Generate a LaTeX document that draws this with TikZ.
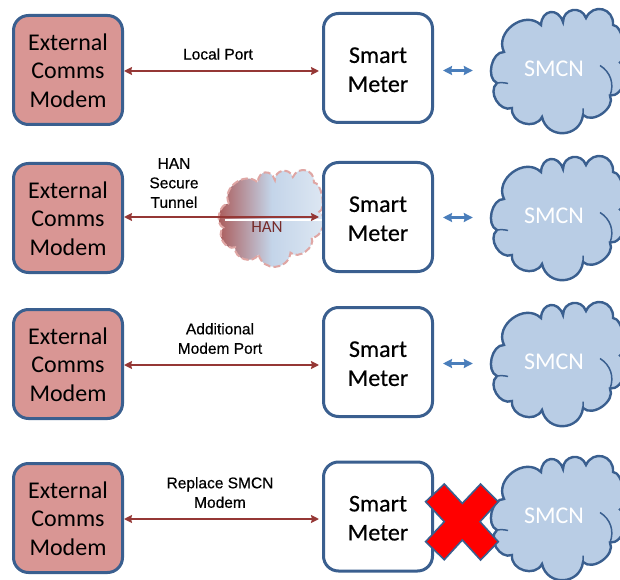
\documentclass[tikz,border=0pt]{standalone}
\usepackage{fontspec}
\setmainfont{Carlito}
\newfontfamily\meterfont[FakeBold=0.4]{Carlito}
\newfontfamily\arialfont[FakeBold=0.5]{Liberation Sans}
\usepackage{tikz}
\usetikzlibrary{shapes.geometric, arrows, arrows.meta}
\definecolor{boxblue}{HTML}{3A5F8F}
\definecolor{modemred}{HTML}{D99694}
\definecolor{cloudblue}{HTML}{B9CDE5}
\definecolor{linkred}{HTML}{953735}
\definecolor{linkblue}{HTML}{4A7EBB}
\tikzstyle{modem} = [rectangle, rounded corners=15pt, minimum width=109pt, minimum height=109pt, text centered, align=center, line width=3pt, draw=boxblue, fill=modemred, font=\fontsize{24}{28.5}\selectfont]
\tikzstyle{meter} = [rectangle, rounded corners=15pt, minimum width=109pt, minimum height=109pt, text centered, align=center, line width=3pt, draw=boxblue, fill=white, font=\meterfont\fontsize{24}{29}\selectfont]
\tikzstyle{smcn} = [rectangle, minimum width=124pt, minimum height=120pt, text=white, font=\fontsize{24}{26}\selectfont]
\tikzstyle{portlabel} = [align=center, inner sep=0pt, font=\arialfont\fontsize{15.5}{19.5}\selectfont]
\tikzstyle{smcncloud} = [line width=2.4pt, draw=boxblue, fill=cloudblue]
\tikzstyle{hancloud} = [line width=2pt, draw=modemred!85, dash pattern=on 7pt off 3pt, left color=linkred!70!modemred, right color=cloudblue!45!white, middle color=cloudblue!85!white]
\tikzstyle{arrow} = [line width=1.7pt,{Stealth[length=8pt,width=8pt,inset=1pt]}-{Stealth[length=8pt,width=8pt,inset=1pt]}, color=linkred, shorten >=3pt]
\tikzstyle{arrowBlue} = [line width=2.2pt,{Stealth[length=9pt,width=9pt,inset=1pt]}-{Stealth[length=9pt,width=9pt,inset=1pt]}, color=linkblue, shorten <=9pt, shorten >=19pt]
\tikzstyle{crossout} = [line width=1.6pt, draw=boxblue, fill=red]
\newcommand{\modemtext}{\rule{0pt}{18pt}External\\Comms\\Modem}
\newcommand{\metertext}{\rule{0pt}{19pt}Smart\\Meter}
\newcommand{\puffs}[1]{\draw [#1] (-54,18.5) foreach \x/\y/\l in {-17/45.5/1.25,5/48.5/1.8,28/52.5/1.5,55/45.5/1.55,62/8/0.65,52/-25/1,25/-44.5/1.05,-16/-46.5/1.45,-46/-37.5/1.25,-61/-12.5/1.15,-54/18.5/1} {to[bend left=80, looseness=\l] (\x,\y)} -- cycle;}
\newcommand{\puffinner}[1]{\draw [line width=1.5pt, draw=boxblue, #1] (-61,-12.5) to[bend left=10] (-50,-13) (42,5) to[bend left=40] (52,-25) (25,-44.5) to[bend right=5] (25,-38);}
\begin{document}
\begin{tikzpicture}[x=1pt, y=1pt, node distance=148pt]
		
		\useasboundingbox (0,0) rectangle (620,579);
		\clip (0,0) rectangle (620,579);
		
		\puffs{smcncloud, shift={(558,508.5)}}
		\puffs{smcncloud, shift={(558,361.5)}}
		\puffs{smcncloud, shift={(558,215.5)}}
		\puffs{smcncloud, shift={(558,61.5)}}
		\puffinner{shift={(558,508.5)}}
		\puffinner{shift={(558,361.5)}}
		\puffinner{shift={(558,215.5)}}
		\puffinner{shift={(558,61.5)}}
		\puffs{hancloud, shift={(271,361)}, scale=0.78}
		
		\node (modem1) [modem] at (68,509) {\modemtext};
		\node (modem2) [modem, below of=modem1] {\modemtext};
		\node (modem3) [modem, below of=modem2, yshift=2pt] {\modemtext};
		\node (modem4) [modem, below of=modem3, yshift=-6pt] {\modemtext};
		
		\node (meter1) [meter] at (378,511) {\metertext};
		\node (meter2) [meter, below of=meter1, yshift=-1pt] {\metertext};
		\node (meter3) [meter, below of=meter2, yshift=3pt] {\metertext};
		\node (meter4) [meter, below of=meter3, yshift=-6.5pt] {\metertext};
		
		\node (smcn1) [smcn] at (554,510) {SMCN};
		\node (smcn2) [smcn, below of=smcn1, yshift=1pt] {SMCN};
		\node (smcn3) [smcn, below of=smcn2, yshift=2pt] {SMCN};
		\node (smcn4) [smcn, below of=smcn3, yshift=-6pt] {SMCN};
		
		\node (han) [text=linkred!80!black, font=\fontsize{17}{20}\selectfont] at (267,352) {HAN};
		
		\node (port1) [portlabel] at (218,525) {Local Port};
		\node (port2) [portlabel] at (174,396) {HAN\\Secure\\Tunnel};
		\node (port3) [portlabel] at (220,240.5) {Additional\\Modem Port};
		\node (port4) [portlabel] at (220,86.5) {Replace SMCN\\Modem};
		
		\coordinate (hanline) at (225,359);
		\draw [white, line width=1.2pt] (hanline) -- (hanline -| meter2.west);
		
		\draw [arrow] ([yshift=-1pt]modem1.east) -- ([yshift=-1pt]modem1 -| meter1.west);
		\draw [arrow] ([yshift=1pt]modem2.east) -- ([yshift=1pt]modem2 -| meter2.west);
		\draw [arrow] ([yshift=-1pt]modem3.east) -- ([yshift=-1pt]modem3 -| meter3.west);
		\draw [arrow] ([yshift=-1pt]modem4.east) -- ([yshift=-1pt]modem4 -| meter4.west);
		
		\draw [arrowBlue] ([yshift=-1.5pt]meter1.east |- smcn1) -- ([yshift=-1.5pt]smcn1.west);
		\draw [arrowBlue] ([yshift=-1.5pt]meter2.east |- smcn2) -- ([yshift=-1.5pt]smcn2.west);
		\draw [arrowBlue] ([yshift=-1.5pt]meter3.east |- smcn3) -- ([yshift=-1.5pt]smcn3.west);
		
		\draw [crossout, shift={(462.3,57.3)}] (-18,37.7) -- (0,18.3) -- (18.3,37.7) -- (36,20) -- (17.7,0) -- (36,-20) -- (18.3,-38.3) -- (0,-18.3) -- (-18,-38) -- (-36.7,-20) -- (-18,0) -- (-36.7,20) -- cycle;
		
		\end{tikzpicture}
\end{document}
